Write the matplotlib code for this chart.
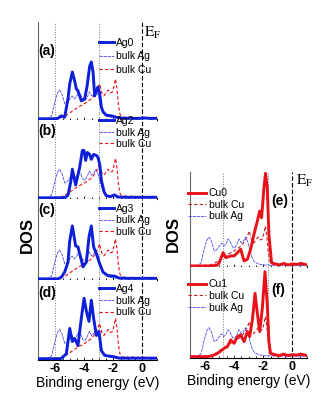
import matplotlib
matplotlib.use('Agg')
import matplotlib.pyplot as plt
from matplotlib.ticker import MultipleLocator

plt.rcParams['font.family'] = ['Liberation Sans', 'DejaVu Sans']
plt.rcParams['mathtext.fontset'] = 'stix'

# bulk reference DOS (same in every panel)
bulk_ag_e = [-7.2, -6.5, -6.25, -6.05, -5.85, -5.7, -5.55, -5.35, -5.2, -5.0, -4.85, -4.7, -4.55, -4.4,
             -4.25, -4.1, -3.95, -3.8, -3.65, -3.5, -3.35, -3.2, -3.05, -2.9, -2.75, -2.6, -2.4, -2.2,
             -2.0, -1.6, -1.0, -0.5, 0.0, 0.5, 1.0]
bulk_ag = [0.0, 0.02, 0.3, 1.6, 2.6, 2.9, 2.5, 1.5, 1.6, 2.0, 2.3, 2.0, 2.2, 2.7, 2.4, 1.9, 1.8, 2.2,
           2.7, 2.3, 2.5, 2.9, 2.4, 1.5, 0.8, 0.4, 0.25, 0.15, 0.1, 0.08, 0.05, 0.05, 0.05, 0.05, 0.05]
bulk_cu_e = [-7.2, -6.0, -5.6, -5.3, -5.0, -4.7, -4.4, -4.1, -3.8, -3.5, -3.3, -3.1, -2.95, -2.8,
             -2.65, -2.5, -2.35, -2.2, -2.05, -1.95, -1.85, -1.75, -1.65, -1.55, -1.45, -1.3, -1.1,
             -0.9, -0.7, -0.5, -0.3, -0.1, 0.1, 0.3, 0.5, 0.7, 1.0]
bulk_cu = [0.0, 0.02, 0.1, 0.3, 0.6, 0.9, 1.2, 1.4, 1.7, 2.0, 2.4, 2.9, 3.5, 2.6, 2.3, 2.6, 2.9, 2.6,
           2.7, 3.3, 4.0, 3.0, 1.4, 0.5, 0.2, 0.15, 0.2, 0.1, 0.2, 0.1, 0.15, 0.1, 0.15, 0.1, 0.1, 0.15, 0.1]

# Ag sites
ag0_e = [-7.2, -6.0, -5.82, -5.59, -5.36, -5.13, -5.01, -4.83, -4.67, -4.55, -4.44, -4.21, -3.98, -3.82,
         -3.63, -3.52, -3.40, -3.29, -3.17, -3.06, -2.94, -2.83, -2.71, -2.48, -2.14, -1.79, -1.33,
         -0.8, -0.3, 0.2, 0.6, 1.0]
ag0 = [0.0, 0.0, 0.05, 0.3, 0.15, 2.0, 3.5, 4.7, 3.8, 3.0, 2.8, 1.8, 2.0, 3.2, 5.3, 5.7, 4.7, 2.3, 2.8,
       3.2, 2.5, 1.2, 0.7, 0.35, 0.3, 0.15, 0.05, 0.05, 0.03, 0.08, 0.03, 0.05]
ag2_e = [-7.2, -5.6, -5.3, -5.13, -4.94, -4.83, -4.60, -4.32, -4.14, -4.02, -3.91, -3.79, -3.63, -3.52,
         -3.36, -3.17, -3.06, -2.94, -2.83, -2.64, -2.48, -2.2, -1.91, -1.7, -1.2, -0.5, 0.3, 1.0]
ag2 = [0.0, 0.0, 0.05, 0.27, 1.6, 2.9, 1.3, 3.1, 4.8, 4.8, 3.8, 4.6, 4.4, 3.9, 4.4, 4.3, 4.1, 3.4, 1.8,
       0.6, 0.2, 0.12, 0.3, 0.08, 0.05, 0.05, 0.05, 0.05]
ag3_e = [-7.2, -5.8, -5.59, -5.36, -5.13, -5.01, -4.83, -4.60, -4.44, -4.32, -4.09, -3.86, -3.68, -3.52,
         -3.36, -3.17, -2.94, -2.71, -2.37, -1.91, -1.6, -1.0, -0.3, 0.4, 1.0]
ag3 = [0.0, 0.0, 0.17, 0.67, 1.67, 3.8, 5.3, 3.3, 3.2, 2.5, 1.2, 1.7, 4.2, 5.3, 3.2, 2.5, 1.5, 0.67,
       0.33, 0.27, 0.08, 0.05, 0.05, 0.05, 0.05]
ag4_e = [-7.2, -5.8, -5.59, -5.24, -5.01, -4.83, -4.67, -4.44, -4.21, -4.02, -3.86, -3.68, -3.52, -3.36,
         -3.17, -2.99, -2.83, -2.60, -1.91, -1.6, -1.0, -0.3, 0.4, 1.0]
ag4 = [0.0, 0.0, 0.02, 0.5, 3.0, 1.7, 2.0, 1.3, 4.0, 6.0, 4.7, 3.7, 5.8, 4.0, 2.3, 2.7, 0.8, 0.33, 0.17,
       0.06, 0.05, 0.05, 0.05, 0.05]

# Cu sites
cu0_e = [-7.0, -5.5, -5.12, -5.01, -4.74, -4.56, -4.22, -3.99, -3.76, -3.54, -3.31, -3.08, -2.86, -2.63,
         -2.40, -2.24, -2.11, -1.95, -1.84, -1.72, -1.61, -1.43, -1.2, -0.9, -0.6, -0.3, 0.0, 0.3,
         0.6, 1.0]
cu0 = [0.0, 0.0, 0.1, 0.33, 1.33, 0.83, 1.0, 1.0, 1.33, 1.67, 0.5, 0.67, 1.67, 3.17, 4.5, 5.5, 4.83,
       7.83, 9.3, 7.83, 3.17, 0.33, 0.2, 0.1, 0.25, 0.1, 0.2, 0.15, 0.25, 0.1]
cu1_e = [-7.0, -5.8, -5.46, -5.12, -4.90, -4.67, -4.45, -4.22, -3.99, -3.76, -3.54, -3.31, -3.08, -2.93,
         -2.74, -2.56, -2.40, -2.24, -2.06, -1.88, -1.72, -1.61, -1.50, -1.2, -0.9, -0.6, -0.3, 0.0,
         0.3, 0.6, 1.0]
cu1 = [0.0, 0.0, 0.1, 0.33, 0.57, 0.83, 1.0, 1.67, 1.33, 2.0, 2.17, 1.5, 2.5, 2.0, 3.67, 6.33, 4.33,
       2.5, 4.83, 8.5, 5.17, 1.5, 0.33, 0.2, 0.1, 0.25, 0.1, 0.2, 0.15, 0.25, 0.1]

tick_pos = [-6, -4, -2, 0]
tick_labels = ['-6', '-4', '-2', '0']

left_site = [ag0, ag2, ag3, ag4]
left_site_e = [ag0_e, ag2_e, ag3_e, ag4_e]
left_names = ['Ag0', 'Ag2', 'Ag3', 'Ag4']
left_tags = ['(a)', '(b)', '(c)', '(d)']
right_site = [cu0, cu1]
right_site_e = [cu0_e, cu1_e]
right_names = ['Cu0', 'Cu1']
right_tags = ['(e)', '(f)']

blue = '#0d1fd8'
red = '#e8121a'

fig = plt.figure(figsize=(3.33, 4.18), dpi=100)

# [left, bottom, width, height, ymax, legend y, labelspacing, tag y]
left_boxes = [[0.114, 0.713, 0.357, 0.234, 9.7, 0.84, 0.35, 0.71],
              [0.114, 0.524, 0.357, 0.189, 7.9, 1.05, 0.15, 0.86],
              [0.114, 0.330, 0.357, 0.194, 8.0, 0.94, 0.15, 0.86],
              [0.114, 0.139, 0.357, 0.191, 7.8, 0.95, 0.15, 0.84]]
right_boxes = [[0.571, 0.361, 0.351, 0.227, 9.4, 0.83, 0.15, 0.70],
               [0.571, 0.144, 0.351, 0.218, 9.0, 0.86, 0.15, 0.74]]


def style_axes(ax, bottom_panel):
    for s in ['top', 'right']:
        ax.spines[s].set_visible(False)
    ax.spines['left'].set_color('#666666')
    ax.spines['left'].set_linewidth(0.8)
    ax.spines['bottom'].set_linewidth(0.8)
    ax.set_yticks([])
    ax.set_xticks(tick_pos)
    ax.xaxis.set_minor_locator(MultipleLocator(0.5))
    ax.tick_params(axis='x', which='both', direction='in', length=2.5, width=0.6, pad=2)
    ax.tick_params(axis='x', which='minor', length=1.5)
    if bottom_panel:
        ax.set_xticklabels(tick_labels, fontsize=9, fontweight='bold')
        ax.set_xlabel('Binding energy (eV)', fontsize=10, labelpad=1)
    else:
        ax.set_xticklabels([])


for i in range(4):
    b = left_boxes[i]
    ax = fig.add_axes(b[:4])
    ax.axvline(-6, color='#777777', ls=':', lw=0.7)
    ax.axvline(-3, color='#777777', ls=':', lw=0.7)
    ax.axvline(0, color='black', ls=(0, (4, 2)), lw=0.8)
    ax.plot(left_site_e[i], left_site[i], color=blue, lw=2.1, label=left_names[i], zorder=3)
    ax.plot(bulk_ag_e, bulk_ag, color='#4a4af0', lw=0.6, ls=(0, (4, 1)), label='bulk Ag', zorder=2)
    ax.plot(bulk_cu_e, bulk_cu, color=red, lw=0.8, ls=(0, (3, 2)), label='bulk Cu', zorder=2)
    ax.set_xlim(-7.2, 1.0)
    ax.set_ylim(-0.12, b[4])
    style_axes(ax, i == 3)
    ax.legend(loc='upper left', bbox_to_anchor=(0.51, b[5]), frameon=False, fontsize=7.5,
              borderpad=0, borderaxespad=0, handlelength=1.45, handletextpad=0.2,
              labelspacing=b[6])
    ax.text(0.0, b[7], left_tags[i], transform=ax.transAxes, fontsize=10, fontweight='bold',
            va='center', ha='left')

for i in range(2):
    b = right_boxes[i]
    ax = fig.add_axes(b[:4])
    ax.axvline(-4.75, color='#777777', ls=':', lw=0.7)
    ax.axvline(-1.7, color='#777777', ls=':', lw=0.7)
    ax.axvline(0, color='black', ls=(0, (4, 2)), lw=0.8)
    ax.plot(right_site_e[i], right_site[i], color=red, lw=2.1, label=right_names[i], zorder=3)
    ax.plot(bulk_cu_e, bulk_cu, color='#c0202a', lw=0.8, ls=(0, (3, 2)), label='bulk Cu', zorder=2)
    ax.plot(bulk_ag_e, bulk_ag, color='#4a4af0', lw=0.6, ls=(0, (4, 1)), label='bulk Ag', zorder=2)
    ax.set_xlim(-7.0, 1.0)
    ax.set_ylim(-0.12, b[4])
    style_axes(ax, i == 1)
    ax.legend(loc='upper left', bbox_to_anchor=(-0.02, b[5]), frameon=False, fontsize=7.5,
              borderpad=0, borderaxespad=0, handlelength=1.75, handletextpad=0.25,
              labelspacing=b[6])
    ax.text(0.69, b[7], right_tags[i], transform=ax.transAxes, fontsize=10, fontweight='bold',
            va='center', ha='left')

fig.text(0.433, 0.921, r'$\mathrm{E}_{\mathrm{F}}$', fontsize=11, va='center', ha='left')
fig.text(0.889, 0.567, r'$\mathrm{E}_{\mathrm{F}}$', fontsize=11, va='center', ha='left')
fig.text(0.081, 0.438, 'DOS', rotation=90, fontsize=12, fontweight='bold', va='center', ha='center')
fig.text(0.520, 0.440, 'DOS', rotation=90, fontsize=12, fontweight='bold', va='center', ha='center')

fig.savefig('out.png', dpi=100)
